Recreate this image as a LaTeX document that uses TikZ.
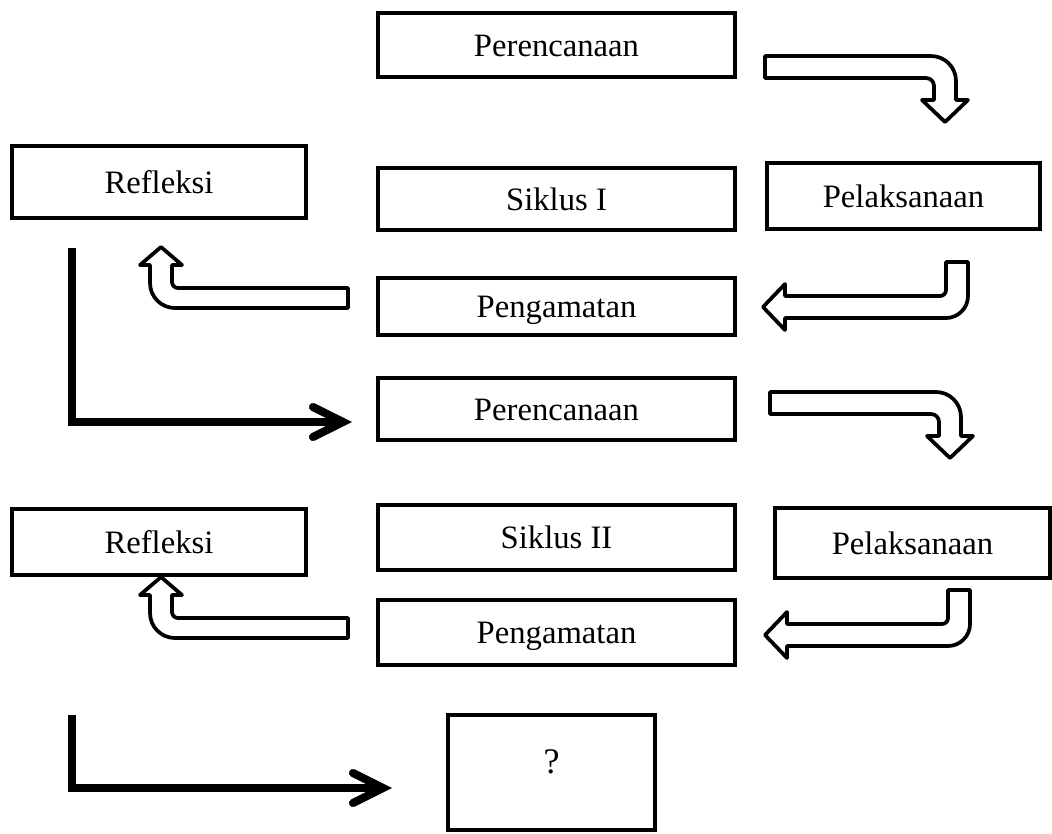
\documentclass[tikz,border=0pt]{standalone}
\usepackage{fontspec}
\setmainfont{Liberation Serif}
\begin{document}
\begin{tikzpicture}[x=0.75pt,y=-0.75pt,
  box/.style={draw,line width=3.5pt,inner sep=0pt,font=\fontsize{24.5}{29}\selectfont,text height=18pt,text depth=1.5pt},
  hollow/.style={draw,fill=white,line width=2.8pt,line join=round},
  bigarrow/.style={line width=6pt,line join=miter},
  shadowarrow/.style={line width=6pt,line join=miter,draw=black!40}]
\useasboundingbox (0,0) rectangle (1052,833);
% boxes
\node[box,minimum width=267.75pt,minimum height=48pt] (per1) at (556.5,45) {Perencanaan};
\node[box,minimum width=220.5pt,minimum height=54pt] (ref1) at (159,182) {Refleksi};
\node[box,minimum width=267.75pt,minimum height=46.5pt] (sik1) at (556.5,199) {Siklus I};
\node[box,minimum width=204.75pt,minimum height=49.5pt] (pel1) at (903.5,196) {Pelaksanaan};
\node[box,minimum width=267.75pt,minimum height=42.75pt] (pen1) at (556.5,306.5) {Pengamatan};
\node[box,minimum width=267.75pt,minimum height=46.5pt] (per2) at (556.5,409) {Perencanaan};
\node[box,minimum width=220.5pt,minimum height=49.5pt] (ref2) at (159,542) {Refleksi};
\node[box,minimum width=267.75pt,minimum height=48.75pt] (sik2) at (556.5,537.5) {Siklus II};
\node[box,minimum width=206.25pt,minimum height=52.5pt] (pel2) at (912.5,543) {Pelaksanaan};
\node[box,minimum width=267.75pt,minimum height=48.75pt] (pen2) at (556.5,632.5) {Pengamatan};
\node[box,minimum width=155.25pt,minimum height=86.25pt] (q) at (551.5,772.5) {};
\node[font=\fontsize{27}{32}\selectfont,inner sep=0pt] (qlabel) at (551.5,762) {?};
% hollow arrow: right then down (Perencanaan -> Pelaksanaan)
\foreach \dx/\dy in {0/0,5/336}{
\begin{scope}[shift={(\dx,\dy)}]
\path[hollow] (765,56) -- (931,56) .. controls (944.8,56) and (956,67.2) .. (956,81)
  -- (956,100) -- (968,100) -- (945,122) -- (922,100) -- (934,100) -- (934,86)
  .. controls (934,81.6) and (930.4,78) .. (926,78) -- (765,78) -- cycle;
\end{scope}}
% hollow arrow: down then left (Pelaksanaan -> Pengamatan)
\foreach \dx/\dy in {0/0,2/328}{
\begin{scope}[shift={(\dx,\dy)}]
\path[hollow] (946,262) -- (968,262) -- (968,296) .. controls (968,308.1) and (958.1,318) .. (946,318)
  -- (785,318) -- (785,330) -- (763,307) -- (785,284) -- (785,296) -- (940,296)
  .. controls (943.3,296) and (946,293.3) .. (946,290) -- cycle;
\end{scope}}
% hollow arrow: left then up (Pengamatan -> Refleksi)
\foreach \dx/\dy in {0/0,0/330}{
\begin{scope}[shift={(\dx,\dy)}]
\path[hollow] (348,288) -- (348,308) -- (175,308) .. controls (161.2,308) and (150,296.8) .. (150,283)
  -- (150,265) -- (140,265) -- (161,247) -- (182,265) -- (172,265) -- (172,282)
  .. controls (172,285.3) and (174.7,288) .. (178,288) -- cycle;
\end{scope}}
% L arrows (Refleksi -> next)
\coordinate (l1s) at (72,248); \coordinate (l1c) at (72,422); \coordinate (l1e) at (343,422);
\coordinate (l1a) at (313,407); \coordinate (l1b) at (313,437);
\coordinate (l2s) at (72,715); \coordinate (l2c) at (72,788); \coordinate (l2e) at (383,788);
\coordinate (l2a) at (353,773); \coordinate (l2b) at (353,803);
\begin{scope}[shift={(3,4)}]
\draw[shadowarrow] (l1s) -- (l1c) -- (l1e);
\draw[shadowarrow,line cap=round] (l1a) -- (l1e) -- (l1b);
\draw[shadowarrow] (l2s) -- (l2c) -- (l2e);
\draw[shadowarrow,line cap=round] (l2a) -- (l2e) -- (l2b);
\end{scope}
\draw[bigarrow] (l1s) -- (l1c) -- (l1e);
\draw[bigarrow,line cap=round] (l1a) -- (l1e) -- (l1b);
\draw[bigarrow] (l2s) -- (l2c) -- (l2e);
\draw[bigarrow,line cap=round] (l2a) -- (l2e) -- (l2b);
\end{tikzpicture}
\end{document}
